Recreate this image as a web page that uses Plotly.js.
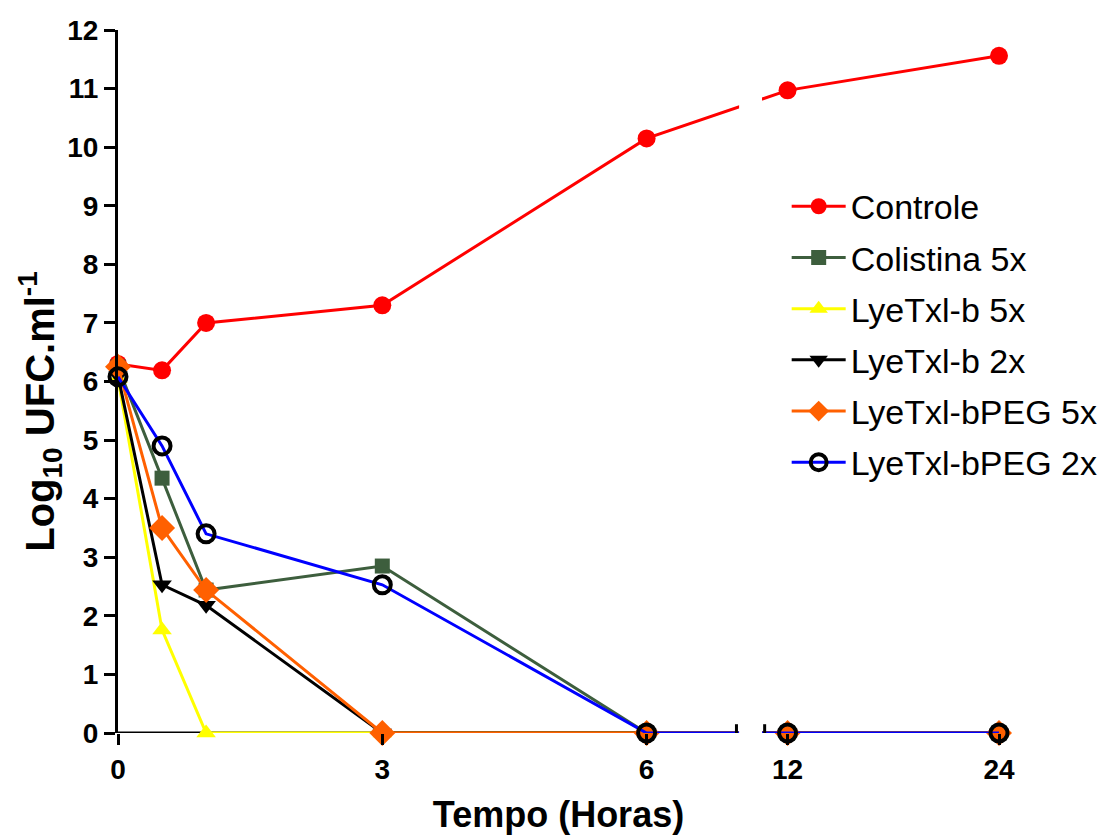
<!DOCTYPE html>
<html>
<head>
<meta charset="utf-8">
<script src="https://cdn.plot.ly/plotly-3.0.1.min.js"></script>
<style>
  html, body { margin: 0; padding: 0; background: #fff; }
  #chart { width: 1118px; height: 835px; }
</style>
</head>
<body>
<div id="chart"></div>
<script>
// Sampling times (hours) and log10 CFU/ml counts per treatment
const hours = [0, 0.5, 1, 3, 6, 12, 24];
const controle      = [6.30, 6.19, 7.00, 7.30, 10.15, 10.97, 11.56];
const colistina5x   = [6.25, 4.35, 2.44, 2.85, 0, 0, 0];
const lyetxlb5x     = [6.05, 1.76, 0, 0, 0, 0, 0];
const lyetxlb2x     = [6.10, 2.53, 2.18, 0, 0, 0, 0];
const lyetxlbpeg5x  = [6.25, 3.50, 2.44, 0, 0, 0, 0];
const lyetxlbpeg2x  = [6.08, 4.90, 3.40, 2.53, 0, 0, 0];

const seriesNames = ['Controle', 'Colistina 5x', 'LyeTxl-b 5x', 'LyeTxl-b 2x', 'LyeTxl-bPEG 5x', 'LyeTxl-bPEG 2x'];
const tickHours = [0, 3, 6, 12, 24];
const tickLabels = ['0', '3', '6', '12', '24'];
const xTitle = 'Tempo (Horas)';
const yTitle = 'Log<sub>10</sub> UFC.ml<sup>-1</sup>';

// Broken time axis: 0–7 h drawn at full scale, the late samples compressed
// to a fifth of that scale after the break.
const BREAK_END_H = 7.02;   // where the first segment stops (hours)
const SEG2_ORIGIN = 7.6;    // axis position of 12 h
const SEG2_SCALE = 0.2;     // axis units per hour after the break
function axisPos(t) {
  return t <= BREAK_END_H ? t : SEG2_ORIGIN + (t - 12) * SEG2_SCALE;
}
const GAP_START = BREAK_END_H;
const GAP_END = 7.34;
const X_END = axisPos(24);

const xs = hours.map(axisPos);
const FONT = 'Liberation Sans, Arial, sans-serif';

const styles = [
  { line: '#ff0000', marker: { symbol: 'circle', size: 18, color: '#ff0000' } },
  { line: '#3d5e3d', marker: { symbol: 'square', size: 15, color: '#3d5e3d' } },
  { line: '#ffff00', marker: { symbol: 'triangle-up', size: 17, color: '#ffff00' } },
  { line: '#000000', marker: { symbol: 'triangle-down', size: 17, color: '#000000' } },
  { line: '#ff6000', marker: { symbol: 'diamond', size: 20, color: '#ff6000' } },
  { line: '#0000ff', marker: { symbol: 'circle-open', size: 17, color: '#000000', line: { width: 4, color: '#000000' } } }
];

const values = [controle, colistina5x, lyetxlb5x, lyetxlb2x, lyetxlbpeg5x, lyetxlbpeg2x];
const traces = values.map((ys, i) => ({
  type: 'scatter',
  mode: 'lines+markers',
  name: seriesNames[i],
  legendgroup: 'g' + i,
  x: xs,
  y: ys,
  line: { color: styles[i].line, width: 3 },
  marker: styles[i].marker,
  cliponaxis: false
}));

const axisLine = { color: '#000000', width: 3 };

const layout = {
  width: 1118,
  height: 835,
  paper_bgcolor: '#ffffff',
  plot_bgcolor: '#ffffff',
  margin: { l: 118, r: 119, t: 30, b: 102 },
  font: { family: FONT, color: '#000000' },
  showlegend: true,
  legend: {
    x: 0.759, y: 0.79, xanchor: 'left', yanchor: 'top',
    font: { family: FONT, size: 34, color: '#000000' },
    bgcolor: 'rgba(0,0,0,0)',
    traceorder: 'grouped',
    tracegroupgap: 4,
    itemwidth: 54
  },
  xaxis: {
    range: [0, X_END],
    showgrid: false, zeroline: false,
    showline: false,
    ticks: 'outside', ticklen: 11, tickwidth: 3, tickcolor: '#000000',
    tickmode: 'array',
    tickvals: tickHours.map(axisPos),
    ticktext: tickLabels,
    tickfont: { family: FONT, size: 28, weight: 'bold', color: '#000000' },
    title: { text: xTitle, font: { family: FONT, size: 36, weight: 'bold' }, standoff: 18 }
  },
  yaxis: {
    range: [0, 12],
    showgrid: false, zeroline: false,
    showline: true, linecolor: '#000000', linewidth: 3,
    ticks: 'outside', ticklen: 11, tickwidth: 3, tickcolor: '#000000',
    tickmode: 'linear', tick0: 0, dtick: 1,
    tickfont: { family: FONT, size: 28, weight: 'bold', color: '#000000' }
  },
  annotations: [
    { text: yTitle, xref: 'paper', yref: 'paper', x: -0.0885, y: 0.457,
      xanchor: 'center', yanchor: 'middle', textangle: -90, showarrow: false,
      font: { family: FONT, size: 40, weight: 'bold', color: '#000000' } }
  ],
  shapes: [
    // blank out the traces inside the axis break
    { type: 'rect', layer: 'above', xref: 'x', yref: 'y',
      x0: GAP_START + 0.03, x1: GAP_END - 0.03, y0: -0.12, y1: 12.2,
      fillcolor: '#ffffff', line: { width: 0 } },
    // the two pieces of the time axis line
    { type: 'line', layer: 'below', xref: 'x', yref: 'y',
      x0: 0, x1: GAP_START, y0: 0, y1: 0, line: axisLine },
    { type: 'line', layer: 'below', xref: 'x', yref: 'y',
      x0: GAP_END, x1: X_END, y0: 0, y1: 0, line: axisLine },
    // short marks at both edges of the break
    { type: 'line', layer: 'above', xref: 'x', yref: 'y',
      x0: GAP_START, x1: GAP_START, y0: -0.15, y1: 0.15, line: axisLine },
    { type: 'line', layer: 'above', xref: 'x', yref: 'y',
      x0: GAP_END, x1: GAP_END, y0: -0.15, y1: 0.15, line: axisLine }
  ]
};

Plotly.newPlot('chart', traces, layout, { displayModeBar: false, staticPlot: true });
</script>
</body>
</html>
